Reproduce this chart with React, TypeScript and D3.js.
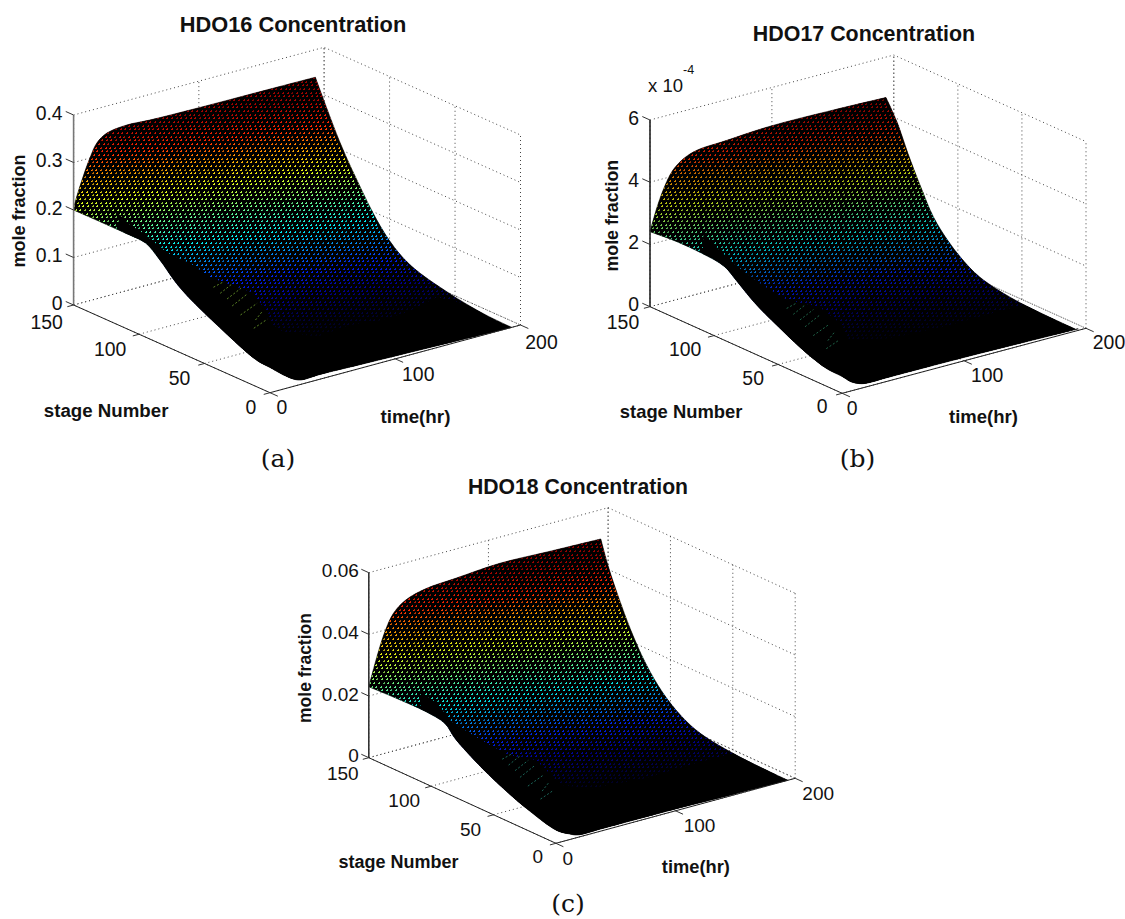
import React from 'react';
import * as d3 from 'd3';

// readings are [time hr, stage, mole fraction] along the edges of each surface
const ridgeTimeA = [0, 1.1, 7.5, 13, 18.6, 26.6, 42.5, 60.8, 100, 150, 193];
const ridgeValueA = [0.2, 0.214, 0.264, 0.3, 0.328, 0.343, 0.3486, 0.346, 0.344, 0.343, 0.342];
const endStageA = [150, 131, 117, 103, 90, 76, 48, 21, 0];
const endValueA = [0.342, 0.227, 0.159, 0.099, 0.059, 0.034, 0.013, 0.002, 0];
const baseTimeA = [193, 160, 130, 100, 70, 40, 25, 20, 15, 10, 5, 0];
const baseValueA = [0, 0.002, 0.004, 0.006, 0.008, 0.01, 0.009, 0.0135, 0.0215, 0.031, 0.042, 0.053];
const frontStageA = [10, 25, 40, 55, 70, 85, 95, 110, 150];
const frontValueA = [0.0556, 0.072, 0.092, 0.113, 0.139, 0.178, 0.198, 0.2, 0.2];

const ridgeTimeB = [0, 6, 12, 19, 28, 39, 60, 98, 150, 193.6];
const ridgeValueB = [2.41, 3.16, 3.74, 4.2, 4.48, 4.63, 4.68, 4.77, 4.75, 4.7];
const endStageB = [150, 141, 133, 123, 113, 102, 91, 77, 49, 2];
const endValueB = [4.7, 4.04, 3.23, 2.34, 1.55, 1.01, 0.62, 0.29, 0.06, 0];
const baseTimeB = [193.6, 150, 98, 39, 19, 13, 7, 0];
const baseValueB = [0.05, 0.08, 0.11, 0.12, 0.12, 0.18, 0.3, 0.54];
const frontStageB = [12.5, 32, 51, 68, 82, 92, 110, 129, 150];
const frontValueB = [0.57, 0.85, 1.24, 1.63, 2.07, 2.37, 2.47, 2.48, 2.41];

const ridgeTimeC = [0, 6, 13, 20.5, 31, 48, 72, 109, 150, 193.9];
const ridgeValueC = [0.023, 0.031, 0.039, 0.0446, 0.0479, 0.0498, 0.0505, 0.0515, 0.051, 0.0505];
const endStageC = [150, 144, 135, 126, 114, 100, 85, 70, 41, 3];
const endValueC = [0.0505, 0.0427, 0.0335, 0.0254, 0.0168, 0.0097, 0.0049, 0.0022, 0.0005, 0];
const baseTimeC = [193.9, 150, 100, 40, 18, 11, 1];
const baseValueC = [0, 0.0003, 0.0006, 0.0007, 0.0008, 0.0019, 0.004];
const frontStageC = [22, 45, 63, 81, 89, 104, 124, 150];
const frontValueC = [0.0067, 0.0105, 0.0143, 0.0191, 0.0224, 0.0234, 0.0234, 0.023];

// upper limit of the solid black part of each surface
const blackTimeA = [8, 10, 12, 20, 30, 40, 60, 60, 60, 70, 80, 110, 130, 150, 170];
const blackStageA = [123.7, 116.4, 108.4, 97.6, 89.6, 84, 70.2, 59.5, 57.2, 56.9, 40.4, 44, 38, 38.9, 35.1];
const blackValueA = [0.22, 0.203, 0.194, 0.16, 0.141, 0.111, 0.081, 0.052, 0.034, 0.008, 0.011, 0.01, 0.014, 0.015, 0.037];
const blackTimeB = [8, 12, 20, 30, 40, 55, 60, 60, 80, 120, 160, 175];
const blackStageB = [116, 107.2, 101, 91, 81.1, 70.4, 58.5, 51.5, 38.6, 35, 31.4, 20.7];
const blackValueB = [2.91, 2.49, 1.99, 1.48, 1.08, 0.9, 0.54, 0.13, 0.22, 0.24, 0.37, 0.68];
const blackTimeC = [8, 12, 20, 30, 40, 55, 60, 80, 120, 160, 175];
const blackStageC = [116, 106.7, 102.7, 88.9, 76.5, 68.9, 53.2, 48.9, 43.4, 37.8, 25.8];
const blackValueC = [0.0268, 0.0244, 0.0183, 0.0139, 0.0103, 0.0085, 0.0027, 0.0003, 0.0004, 0.0026, 0.006];

// the short coloured streaks inside the black part
const glintTimes = [[36.4, 47.6], [33, 49.3], [30.1, 48.9], [24.9, 45.2], [19, 40.3], [20.8, 33.4], [10.8, 27.5]];
const glintStages = [[78, 81], [69.6, 76.2], [61.6, 69], [52.7, 60.9], [40.7, 48.4], [31, 38], [22.7, 28.4]];

// jet level against depth below the top of the surface
const rampDepth = [0, 0.13, 0.22, 0.29, 0.38, 0.49, 0.58, 0.65, 0.73, 0.82, 0.92, 1];
const rampLevel = [1, 0.96, 0.85, 0.73, 0.6, 0.47, 0.37, 0.27, 0.16, 0.07, 0.02, 0];

const timeTicks = [0, 100, 200];
const stageTicks = [0, 50, 100, 150];
const zTicksA = [0, 0.1, 0.2, 0.3, 0.4];
const zTicksB = [0, 2, 4, 6];
const zTicksC = [0, 0.02, 0.04, 0.06];

const jet = d3.scaleLinear<string>()
    .domain([0, 0.04, 0.125, 0.375, 0.625, 0.875, 1])
    .range(['#000000', '#000060', '#0000f0', '#00f0f0', '#f8f800', '#ff1000', '#800000'])
    .interpolate(d3.interpolateRgb);

const panels = [
    {
        id: 'a', front: [270, 392.7], right: [520.5, 325], left: [73.6, 305], top: 115,
        zMax: 0.4, zTicks: zTicksA, zFormat: (v: number) => (v === 0 ? '0' : d3.format('.1f')(v)),
        ridgeTime: ridgeTimeA, ridgeValue: ridgeValueA, endStage: endStageA, endValue: endValueA,
        baseTime: baseTimeA, baseValue: baseValueA, frontStage: frontStageA, frontValue: frontValueA,
        blackTime: blackTimeA, blackStage: blackStageA, blackValue: blackValueA,
        glintValue: 0.1, glintColor: '#8fd038', axisColor: '#777', shade: 0,
        title: 'HDO16 Concentration', titleAt: [293, 31.7], titleSize: 21.8,
        zLabelAt: [25, 211], zLabelSize: 18,
        stageLabelAt: [43.8, 417], stageLabelSize: 18.7,
        timeLabelAt: [380.5, 423], timeLabelSize: 18.8,
        stageOffset: [[-19, 14.5], [-25, 15], [-29, 15], [-27, 17]],
        timeOffset: [[12, 15], [23, 16], [21, 17]],
        zLabelGap: 11, tickSize: 19.4,
        caption: '(a)', captionAt: [278, 467],
    },
    {
        id: 'b', front: [842.2, 393.3], right: [1086, 328.3], left: [650, 306.7], top: 120,
        zMax: 6, zTicks: zTicksB, zFormat: (v: number) => String(v),
        ridgeTime: ridgeTimeB, ridgeValue: ridgeValueB, endStage: endStageB, endValue: endValueB,
        baseTime: baseTimeB, baseValue: baseValueB, frontStage: frontStageB, frontValue: frontValueB,
        blackTime: blackTimeB, blackStage: blackStageB, blackValue: blackValueB,
        glintValue: 0.9, glintColor: '#2f9a70', axisColor: '#222', shade: 0.2,
        title: 'HDO17 Concentration', titleAt: [864, 40.7], titleSize: 21.4,
        zLabelAt: [618, 215.7], zLabelSize: 17.8,
        stageLabelAt: [619.8, 418], stageLabelSize: 18.4,
        timeLabelAt: [949, 423], timeLabelSize: 18.5,
        stageOffset: [[-20, 13.4], [-25, 14], [-29, 14], [-27, 16]],
        timeOffset: [[10, 15], [23, 15], [23, 14.4]],
        zLabelGap: 11, tickSize: 19.4,
        caption: '(b)', captionAt: [857.5, 467],
    },
    {
        id: 'c', front: [555.9, 843.3], right: [795.2, 778.3], left: [368.8, 757.7], top: 572.7,
        zMax: 0.06, zTicks: zTicksC, zFormat: (v: number) => (v === 0 ? '0' : d3.format('.2f')(v)),
        ridgeTime: ridgeTimeC, ridgeValue: ridgeValueC, endStage: endStageC, endValue: endValueC,
        baseTime: baseTimeC, baseValue: baseValueC, frontStage: frontStageC, frontValue: frontValueC,
        blackTime: blackTimeC, blackStage: blackStageC, blackValue: blackValueC,
        glintValue: 0.009, glintColor: '#2aa08c', axisColor: '#333', shade: 0.05,
        title: 'HDO18 Concentration', titleAt: [578, 494.3], titleSize: 21.2,
        zLabelAt: [311, 668], zLabelSize: 17.5,
        stageLabelAt: [338.5, 868], stageLabelSize: 18,
        timeLabelAt: [661.8, 873], timeLabelSize: 18.3,
        stageOffset: [[-18, 13.4], [-23, 14.5], [-27, 14.5], [-26, 16]],
        timeOffset: [[12, 15], [24, 15], [23, 15]],
        zLabelGap: 10, tickSize: 19,
        caption: '(c)', captionAt: [568, 912],
    },
];

const sans = '"Liberation Sans", Arial, sans-serif';

// dot texture: black tile with small stair shaped holes
const holeCols = [0, 5, 9];
const holeRows = [0, 4, 7];
const holeShift = [0, 2, 3];
const tileW = 14;
const tileH = 11;
const holePath = () => {
    let d = `M0 0H${tileW}V${tileH}H0Z`;
    holeRows.forEach((y, r) => {
        holeCols.forEach((c) => {
            const x = (c + holeShift[r]) % tileW;
            d += `M${x} ${y + 1}h2v1h-2Z`;
            d += `M${x + 1} ${y}h1v1h-1Z`;
        });
    });
    return d;
};

function Surface({ p }: { p: (typeof panels)[number] }) {
    const timeX = d3.scaleLinear().domain([0, 200]).range([0, p.right[0] - p.front[0]]);
    const timeY = d3.scaleLinear().domain([0, 200]).range([0, p.right[1] - p.front[1]]);
    const stageX = d3.scaleLinear().domain([0, 150]).range([0, p.left[0] - p.front[0]]);
    const stageY = d3.scaleLinear().domain([0, 150]).range([0, p.left[1] - p.front[1]]);
    const zY = d3.scaleLinear().domain([0, p.zMax]).range([0, p.top - p.left[1]]);
    const at = (t: number, s: number, z: number): [number, number] => [
        p.front[0] + timeX(t) + stageX(s),
        p.front[1] + timeY(t) + stageY(s) + zY(z),
    ];

    const smooth = d3.line().curve(d3.curveCatmullRom.alpha(0.5));
    const tEnd = p.ridgeTime[p.ridgeTime.length - 1];
    const ridge = smooth(p.ridgeTime.map((t, i) => at(t, 150, p.ridgeValue[i])))!;
    const end = smooth(p.endStage.map((s, i) => at(tEnd, s, p.endValue[i])))!;
    const lower = smooth([
        ...p.baseTime.map((t, i) => at(t, 0, p.baseValue[i])),
        ...p.frontStage.map((s, i) => at(0, s, p.frontValue[i])),
    ])!;
    const outline = `${ridge}${end.replace('M', 'L')}${lower.replace('M', 'L')}Z`;

    const black = d3.line()([
        ...p.blackTime.map((t, i) => at(t, p.blackStage[i], p.blackValue[i])),
        at(200, 30, 0),
        at(200, 0, -p.zMax / 10),
        at(0, 0, -p.zMax / 10),
        at(0, 110, 0),
    ])!;

    const gridLine = d3.line();
    const wall: [number, number][][] = [];
    p.zTicks.forEach((z) => {
        wall.push([at(0, 150, z), at(200, 150, z), at(200, 0, z)]);
    });
    timeTicks.forEach((t) => {
        wall.push([at(t, 150, 0), at(t, 150, p.zMax)]);
        wall.push([at(t, 0, 0), at(t, 150, 0)]);
    });
    stageTicks.forEach((s) => {
        wall.push([at(200, s, 0), at(200, s, p.zMax)]);
        wall.push([at(0, s, 0), at(200, s, 0)]);
    });

    const gradTop = p.top - 45;
    const gradLen = 275;

    return (
        <g>
            <defs>
                <linearGradient id={`ramp${p.id}`} gradientUnits="userSpaceOnUse"
                    x1={p.front[0] + 10} y1={gradTop} x2={p.front[0] + 10 + 0.13 * gradLen} y2={gradTop + gradLen}>
                    {rampDepth.map((d, i) => <stop key={i} offset={d} stopColor={jet(rampLevel[i])} />)}
                </linearGradient>
                <clipPath id={`clip${p.id}`}><path d={outline} /></clipPath>
            </defs>
            {wall.map((pts, i) => (
                <path key={i} d={gridLine(pts)!} fill="none" stroke="#444" strokeWidth={1} strokeDasharray="1 3" />
            ))}

            <path d={outline} fill={`url(#ramp${p.id})`} />
            <path d={outline} fill="url(#dots)" />
            <path d={outline} fill="url(#stripes)" fillOpacity={0.25} />
            <path d={outline} fill="#000" fillOpacity={p.shade} />
            <path d={black} fill="#000" clipPath={`url(#clip${p.id})`} />
            <path d={outline} fill="none" stroke="#000" strokeWidth={0.6} />
            {glintTimes.map((ts, i) => (
                <path key={i} d={smooth([at(ts[0], glintStages[i][0], p.glintValue), at(ts[1], glintStages[i][1], p.glintValue)])!}
                    stroke={p.glintColor} strokeWidth={0.8} strokeDasharray="2 2" strokeOpacity={0.8} fill="none" />
            ))}

            <path d={gridLine([at(0, 150, 0), at(0, 150, p.zMax)])!} stroke={p.axisColor} strokeWidth={1.6} fill="none" />
            <path d={gridLine([at(0, 150, 0), at(0, 0, 0), at(200, 0, 0)])!} stroke="#222" strokeWidth={1} fill="none" />
            {p.zTicks.map((z) => (
                <g key={z}>
                    <path d={gridLine([at(0, 150, z), at(0, 156, z)])!} stroke="#333" />
                    <text x={at(0, 150, z)[0] - p.zLabelGap} y={at(0, 150, z)[1] + 4.5} textAnchor="end"
                        fontFamily={sans} fontSize={p.tickSize} fill="#111">{p.zFormat(z)}</text>
                </g>
            ))}
            {stageTicks.map((s, i) => (
                <g key={s}>
                    <path d={gridLine([at(0, s, 0), at(-5, s, 0)])!} stroke="#333" />
                    <text x={at(0, s, 0)[0] + p.stageOffset[i][0]} y={at(0, s, 0)[1] + p.stageOffset[i][1] + 6.5} textAnchor="middle"
                        fontFamily={sans} fontSize={p.tickSize} fill="#111">{s}</text>
                </g>
            ))}
            {timeTicks.map((t, i) => (
                <g key={t}>
                    <path d={gridLine([at(t, 0, 0), at(t, -6, 0)])!} stroke="#333" />
                    <text x={at(t, 0, 0)[0] + p.timeOffset[i][0]} y={at(t, 0, 0)[1] + p.timeOffset[i][1] + 6.5} textAnchor="middle"
                        fontFamily={sans} fontSize={p.tickSize} fill="#111">{t}</text>
                </g>
            ))}

            <text x={p.titleAt[0]} y={p.titleAt[1]} textAnchor="middle" fontFamily={sans} fontWeight="bold" fontSize={p.titleSize} fill="#111">{p.title}</text>
            <text transform={`translate(${p.zLabelAt[0]}, ${p.zLabelAt[1]}) rotate(-90)`} textAnchor="middle" fontFamily={sans} fontWeight="bold" fontSize={p.zLabelSize} fill="#111">mole fraction</text>
            <text x={p.stageLabelAt[0]} y={p.stageLabelAt[1]} fontFamily={sans} fontWeight="bold" fontSize={p.stageLabelSize} fill="#111">stage Number</text>
            <text x={p.timeLabelAt[0]} y={p.timeLabelAt[1]} fontFamily={sans} fontWeight="bold" fontSize={p.timeLabelSize} fill="#111">time(hr)</text>
            <text x={p.captionAt[0]} y={p.captionAt[1]} textAnchor="middle" fontFamily='"DejaVu Serif", serif' fontSize={25} fill="#111">{p.caption}</text>
        </g>
    );
}

export default function App() {
    return (
        <svg width={1125} height={919} xmlns="http://www.w3.org/2000/svg" style={{ position: 'absolute', left: 0, top: 0, background: '#fff' }}>
            <defs>
                <pattern id="dots" patternUnits="userSpaceOnUse" width={tileW} height={tileH}>
                    <path d={holePath()} fill="#000" fillRule="evenodd" shapeRendering="crispEdges" />
                </pattern>
                <pattern id="stripes" patternUnits="userSpaceOnUse" width={23} height={7}>
                    <path d="M0 0h2v7h-2ZM9 0h1v7h-1ZM15 0h2v7h-2Z" fill="#000" shapeRendering="crispEdges" />
                </pattern>
            </defs>
            {panels.map((p) => <Surface key={p.id} p={p} />)}
            <text x={648} y={92} fontFamily={sans} fontSize={18.5} fill="#111">x 10</text>
            <text x={683} y={74} fontFamily={sans} fontSize={12.5} fill="#111">-4</text>
        </svg>
    );
}
